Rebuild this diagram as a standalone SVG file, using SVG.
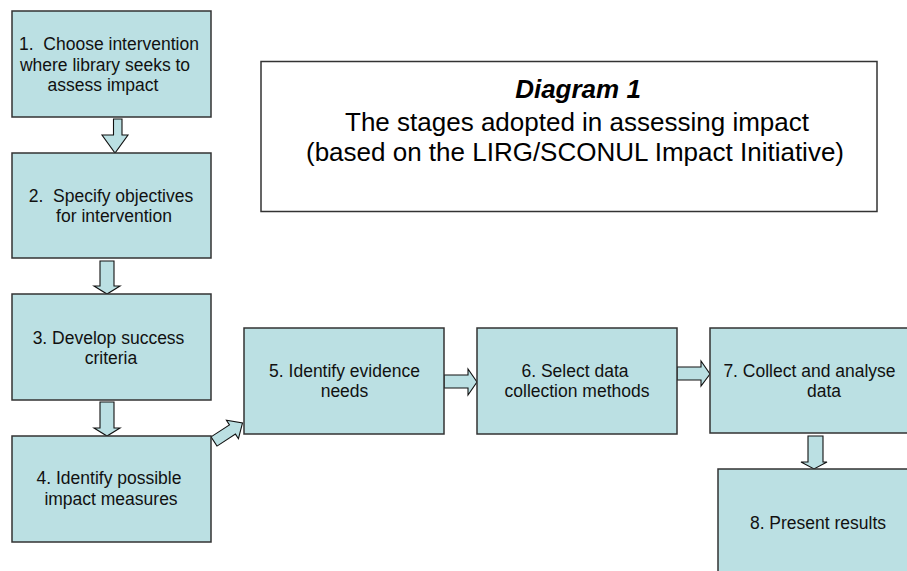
<svg xmlns="http://www.w3.org/2000/svg" width="907" height="571" viewBox="0 0 907 571">
<style>
.box{fill:#BBE0E3;stroke:#333;stroke-width:1.5}
.arr{fill:#BBE0E3;stroke:#111;stroke-width:1.1;stroke-linejoin:miter}
.t{font-family:"Liberation Sans",Arial,sans-serif;font-size:17.5px;fill:#111;text-anchor:middle;white-space:pre}
.tt{font-family:"Liberation Sans",Arial,sans-serif;font-size:26px;fill:#000;text-anchor:middle}
</style>
<rect width="907" height="571" fill="#fff"/>
<g id="title">
<rect x="261" y="61.5" width="616" height="150" fill="#fff" stroke="#333" stroke-width="1.5"/>
<text class="tt" x="578" y="98" font-weight="bold" font-style="italic">Diagram 1</text>
<text class="tt" x="577" y="131">The stages adopted in assessing impact</text>
<text class="tt" x="575" y="161">(based on the LIRG/SCONUL Impact Initiative)</text>
</g>
<g id="connectors">
<path class="arr" d="M113.5,119 H122 V135 H128 L115,153 L102,135 H113.5 Z"/>
<path class="arr" d="M100,261 H114 V286 H120 L107,294 L94,286 H100 Z"/>
<path class="arr" d="M100,402 H114 V428 H120 L107,436 L94,428 H100 Z"/>
<path class="arr" d="M0,-5.5 L22,-5.5 L22,-11 L34,0 L22,11 L22,5.5 L0,5.5 Z" transform="translate(214,441.5) rotate(-33)"/>
<path class="arr" d="M444,375 H468 V369 L477,382 L468,395 V388 H444 Z"/>
<path class="arr" d="M677,367 H701 V361 L710,374 L701,386 V380 H677 Z"/>
<path class="arr" d="M808,436 H823 V462 H827 L814,469 L801,462 H808 Z"/>
</g>
<g id="node1">
<rect class="box" x="12" y="11" width="199" height="106"/>
<text class="t" x="109" y="50">1.  Choose intervention</text>
<text class="t" x="105" y="71">where library seeks to</text>
<text class="t" x="103" y="91">assess impact</text>
</g>
<g id="node2">
<rect class="box" x="12" y="153" width="199" height="105"/>
<text class="t" x="111" y="202">2.  Specify objectives</text>
<text class="t" x="114" y="222">for intervention</text>
</g>
<g id="node3">
<rect class="box" x="12" y="294" width="199" height="106"/>
<text class="t" x="108.5" y="344">3. Develop success</text>
<text class="t" x="111" y="364">criteria</text>
</g>
<g id="node4">
<rect class="box" x="12" y="436" width="199" height="106"/>
<text class="t" x="109" y="484">4. Identify possible</text>
<text class="t" x="111" y="505">impact measures</text>
</g>
<g id="node5">
<rect class="box" x="244" y="328" width="200" height="106"/>
<text class="t" x="344.5" y="377">5. Identify evidence</text>
<text class="t" x="344.5" y="397">needs</text>
</g>
<g id="node6">
<rect class="box" x="477" y="328" width="200" height="106"/>
<text class="t" x="575" y="377">6. Select data</text>
<text class="t" x="577" y="397">collection methods</text>
</g>
<g id="node7">
<rect class="box" x="710" y="328" width="230" height="105"/>
<text class="t" x="809.5" y="377">7. Collect and analyse</text>
<text class="t" x="824" y="397">data</text>
</g>
<g id="node8">
<rect class="box" x="718" y="469" width="230" height="130"/>
<text class="t" x="818" y="529">8. Present results</text>
</g>
</svg>
